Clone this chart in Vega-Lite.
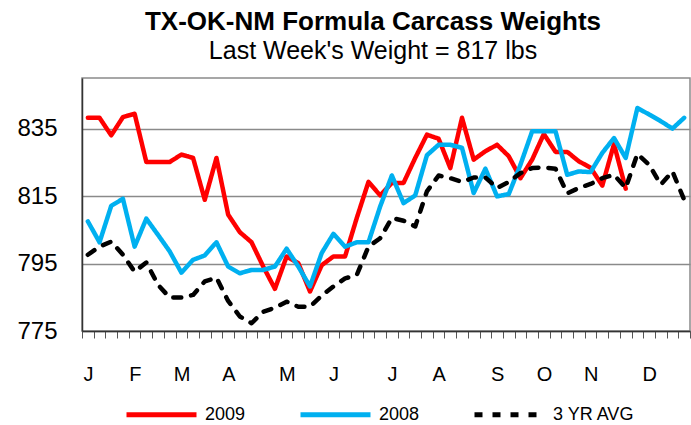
{
  "$schema": "https://vega.github.io/schema/vega-lite/v6.json",
  "autosize": "none",
  "width": 608,
  "height": 253,
  "padding": {"left": 82, "top": 78, "right": 1, "bottom": 94},
  "background": "white",
  "title": {
    "text": "TX-OK-NM Formula Carcass Weights",
    "subtitle": "Last Week's Weight = 817 lbs",
    "anchor": "middle",
    "dx": -13,
    "offset": 14,
    "font": "Liberation Sans",
    "fontSize": 26,
    "fontWeight": "bold",
    "color": "black",
    "subtitleFont": "Liberation Sans",
    "subtitleFontSize": 25,
    "subtitleColor": "black",
    "subtitlePadding": 4
  },
  "config": {
    "view": {"stroke": "#8a8a8a", "strokeWidth": 1.5},
    "font": "Liberation Sans"
  },
  "data": {
    "values": [
      {"week": 1, "series": "2009", "value": 838.2},
      {"week": 2, "series": "2009", "value": 838.2},
      {"week": 3, "series": "2009", "value": 833.0},
      {"week": 4, "series": "2009", "value": 838.4},
      {"week": 5, "series": "2009", "value": 839.4},
      {"week": 6, "series": "2009", "value": 825.1},
      {"week": 7, "series": "2009", "value": 825.1},
      {"week": 8, "series": "2009", "value": 825.1},
      {"week": 9, "series": "2009", "value": 827.3},
      {"week": 10, "series": "2009", "value": 826.3},
      {"week": 11, "series": "2009", "value": 813.9},
      {"week": 12, "series": "2009", "value": 826.3},
      {"week": 13, "series": "2009", "value": 809.5},
      {"week": 14, "series": "2009", "value": 804.3},
      {"week": 15, "series": "2009", "value": 801.3},
      {"week": 16, "series": "2009", "value": 794.1},
      {"week": 17, "series": "2009", "value": 787.5},
      {"week": 18, "series": "2009", "value": 797.1},
      {"week": 19, "series": "2009", "value": 795.1},
      {"week": 20, "series": "2009", "value": 786.7},
      {"week": 21, "series": "2009", "value": 794.5},
      {"week": 22, "series": "2009", "value": 797.1},
      {"week": 23, "series": "2009", "value": 797.1},
      {"week": 24, "series": "2009", "value": 808.5},
      {"week": 25, "series": "2009", "value": 819.2},
      {"week": 26, "series": "2009", "value": 815.2},
      {"week": 27, "series": "2009", "value": 818.9},
      {"week": 28, "series": "2009", "value": 818.9},
      {"week": 29, "series": "2009", "value": 826.3},
      {"week": 30, "series": "2009", "value": 833.2},
      {"week": 31, "series": "2009", "value": 832.0},
      {"week": 32, "series": "2009", "value": 823.3},
      {"week": 33, "series": "2009", "value": 838.2},
      {"week": 34, "series": "2009", "value": 825.8},
      {"week": 35, "series": "2009", "value": 828.3},
      {"week": 36, "series": "2009", "value": 830.2},
      {"week": 37, "series": "2009", "value": 826.8},
      {"week": 38, "series": "2009", "value": 820.3},
      {"week": 39, "series": "2009", "value": 825.8},
      {"week": 40, "series": "2009", "value": 833.4},
      {"week": 41, "series": "2009", "value": 828.1},
      {"week": 42, "series": "2009", "value": 828.1},
      {"week": 43, "series": "2009", "value": 825.3},
      {"week": 44, "series": "2009", "value": 823.4},
      {"week": 45, "series": "2009", "value": 818.1},
      {"week": 46, "series": "2009", "value": 830.4},
      {"week": 47, "series": "2009", "value": 817.2},
      {"week": 1, "series": "2008", "value": 807.5},
      {"week": 2, "series": "2008", "value": 801.3},
      {"week": 3, "series": "2008", "value": 812.1},
      {"week": 4, "series": "2008", "value": 814.2},
      {"week": 5, "series": "2008", "value": 800.0},
      {"week": 6, "series": "2008", "value": 808.3},
      {"week": 7, "series": "2008", "value": 803.5},
      {"week": 8, "series": "2008", "value": 798.6},
      {"week": 9, "series": "2008", "value": 792.3},
      {"week": 10, "series": "2008", "value": 796.1},
      {"week": 11, "series": "2008", "value": 797.4},
      {"week": 12, "series": "2008", "value": 801.3},
      {"week": 13, "series": "2008", "value": 794.1},
      {"week": 14, "series": "2008", "value": 792.1},
      {"week": 15, "series": "2008", "value": 793.1},
      {"week": 16, "series": "2008", "value": 793.1},
      {"week": 17, "series": "2008", "value": 794.1},
      {"week": 18, "series": "2008", "value": 799.4},
      {"week": 19, "series": "2008", "value": 794.1},
      {"week": 20, "series": "2008", "value": 788.2},
      {"week": 21, "series": "2008", "value": 798.1},
      {"week": 22, "series": "2008", "value": 803.8},
      {"week": 23, "series": "2008", "value": 800.0},
      {"week": 24, "series": "2008", "value": 801.3},
      {"week": 25, "series": "2008", "value": 801.3},
      {"week": 26, "series": "2008", "value": 811.9},
      {"week": 27, "series": "2008", "value": 821.1},
      {"week": 28, "series": "2008", "value": 812.9},
      {"week": 29, "series": "2008", "value": 815.2},
      {"week": 30, "series": "2008", "value": 827.1},
      {"week": 31, "series": "2008", "value": 830.2},
      {"week": 32, "series": "2008", "value": 830.2},
      {"week": 33, "series": "2008", "value": 829.3},
      {"week": 34, "series": "2008", "value": 815.9},
      {"week": 35, "series": "2008", "value": 823.1},
      {"week": 36, "series": "2008", "value": 814.9},
      {"week": 37, "series": "2008", "value": 815.6},
      {"week": 38, "series": "2008", "value": 824.3},
      {"week": 39, "series": "2008", "value": 834.2},
      {"week": 40, "series": "2008", "value": 834.2},
      {"week": 41, "series": "2008", "value": 834.2},
      {"week": 42, "series": "2008", "value": 821.3},
      {"week": 43, "series": "2008", "value": 822.3},
      {"week": 44, "series": "2008", "value": 822.1},
      {"week": 45, "series": "2008", "value": 827.8},
      {"week": 46, "series": "2008", "value": 832.2},
      {"week": 47, "series": "2008", "value": 826.3},
      {"week": 48, "series": "2008", "value": 841.1},
      {"week": 49, "series": "2008", "value": 839.2},
      {"week": 50, "series": "2008", "value": 837.2},
      {"week": 51, "series": "2008", "value": 835.0},
      {"week": 52, "series": "2008", "value": 838.2},
      {"week": 1, "series": "3 YR AVG", "value": 797.6},
      {"week": 2, "series": "3 YR AVG", "value": 800.0},
      {"week": 3, "series": "3 YR AVG", "value": 801.5},
      {"week": 4, "series": "3 YR AVG", "value": 797.6},
      {"week": 5, "series": "3 YR AVG", "value": 792.6},
      {"week": 6, "series": "3 YR AVG", "value": 795.3},
      {"week": 7, "series": "3 YR AVG", "value": 788.7},
      {"week": 8, "series": "3 YR AVG", "value": 784.9},
      {"week": 9, "series": "3 YR AVG", "value": 784.9},
      {"week": 10, "series": "3 YR AVG", "value": 785.7},
      {"week": 11, "series": "3 YR AVG", "value": 789.7},
      {"week": 12, "series": "3 YR AVG", "value": 790.8},
      {"week": 13, "series": "3 YR AVG", "value": 783.9},
      {"week": 14, "series": "3 YR AVG", "value": 779.3},
      {"week": 15, "series": "3 YR AVG", "value": 777.3},
      {"week": 16, "series": "3 YR AVG", "value": 780.7},
      {"week": 17, "series": "3 YR AVG", "value": 781.9},
      {"week": 18, "series": "3 YR AVG", "value": 783.7},
      {"week": 19, "series": "3 YR AVG", "value": 782.2},
      {"week": 20, "series": "3 YR AVG", "value": 782.2},
      {"week": 21, "series": "3 YR AVG", "value": 785.5},
      {"week": 22, "series": "3 YR AVG", "value": 788.2},
      {"week": 23, "series": "3 YR AVG", "value": 790.6},
      {"week": 24, "series": "3 YR AVG", "value": 791.6},
      {"week": 25, "series": "3 YR AVG", "value": 800.0},
      {"week": 26, "series": "3 YR AVG", "value": 802.5},
      {"week": 27, "series": "3 YR AVG", "value": 808.5},
      {"week": 28, "series": "3 YR AVG", "value": 807.7},
      {"week": 29, "series": "3 YR AVG", "value": 806.0},
      {"week": 30, "series": "3 YR AVG", "value": 816.4},
      {"week": 31, "series": "3 YR AVG", "value": 821.1},
      {"week": 32, "series": "3 YR AVG", "value": 820.3},
      {"week": 33, "series": "3 YR AVG", "value": 819.2},
      {"week": 34, "series": "3 YR AVG", "value": 820.5},
      {"week": 35, "series": "3 YR AVG", "value": 820.5},
      {"week": 36, "series": "3 YR AVG", "value": 817.4},
      {"week": 37, "series": "3 YR AVG", "value": 819.2},
      {"week": 38, "series": "3 YR AVG", "value": 821.8},
      {"week": 39, "series": "3 YR AVG", "value": 823.3},
      {"week": 40, "series": "3 YR AVG", "value": 823.5},
      {"week": 41, "series": "3 YR AVG", "value": 823.1},
      {"week": 42, "series": "3 YR AVG", "value": 815.8},
      {"week": 43, "series": "3 YR AVG", "value": 817.4},
      {"week": 44, "series": "3 YR AVG", "value": 818.6},
      {"week": 45, "series": "3 YR AVG", "value": 820.3},
      {"week": 46, "series": "3 YR AVG", "value": 821.3},
      {"week": 47, "series": "3 YR AVG", "value": 817.4},
      {"week": 48, "series": "3 YR AVG", "value": 827.5},
      {"week": 49, "series": "3 YR AVG", "value": 824.3},
      {"week": 50, "series": "3 YR AVG", "value": 818.4},
      {"week": 51, "series": "3 YR AVG", "value": 822.3},
      {"week": 52, "series": "3 YR AVG", "value": 813.9}
    ]
  },
  "mark": {"type": "line", "strokeWidth": 4.5, "strokeJoin": "round", "strokeCap": "round"},
  "encoding": {
    "x": {
      "field": "week",
      "type": "quantitative",
      "scale": {"domain": [0.5, 52.5], "nice": false, "zero": false},
      "axis": {
        "title": null,
        "grid": false,
        "values": [0.5,1.5,2.5,3.5,4.5,5.5,6.5,7.5,8.5,9.5,10.5,11.5,12.5,13.5,14.5,15.5,16.5,17.5,18.5,19.5,20.5,21.5,22.5,23.5,24.5,25.5,26.5,27.5,28.5,29.5,30.5,31.5,32.5,33.5,34.5,35.5,36.5,37.5,38.5,39.5,40.5,41.5,42.5,43.5,44.5,45.5,46.5,47.5,48.5,49.5,50.5,51.5,52.5],
        "labelExpr": "datum.value == 0.5 ? 'J' : datum.value == 4.5 ? 'F' : datum.value == 8.5 ? 'M' : datum.value == 12.5 ? 'A' : datum.value == 17.5 ? 'M' : datum.value == 21.5 ? 'J' : datum.value == 26.5 ? 'J' : datum.value == 30.5 ? 'A' : datum.value == 35.5 ? 'S' : datum.value == 39.5 ? 'O' : datum.value == 43.5 ? 'N' : datum.value == 48.5 ? 'D' : ''",
        "labelOverlap": false,
        "labelFlush": false,
        "labelOffset": 6,
        "labelFont": "Liberation Sans",
        "labelFontSize": 20,
        "labelColor": "black",
        "labelPadding": 26,
        "tickSize": 7,
        "tickColor": "#555555",
        "tickWidth": 1,
        "domainColor": "#333333",
        "domainWidth": 1.5
      }
    },
    "y": {
      "field": "value",
      "type": "quantitative",
      "scale": {"domain": [775, 850], "nice": false, "zero": false},
      "axis": {
        "title": null,
        "values": [775, 795, 815, 835],
        "grid": true,
        "gridColor": "#8a8a8a",
        "gridWidth": 1.5,
        "ticks": false,
        "labelFont": "Liberation Sans",
        "labelFontSize": 24,
        "labelColor": "black",
        "labelPadding": 25,
        "domainColor": "#333333",
        "domainWidth": 1.5
      }
    },
    "color": {
      "field": "series",
      "type": "nominal",
      "sort": ["2009", "2008", "3 YR AVG"],
      "scale": {"domain": ["2009", "2008", "3 YR AVG"], "range": ["#FF0000", "#00B0F0", "#000000"]},
      "legend": {
        "title": null,
        "orient": "none",
        "legendX": 42,
        "legendY": 299,
        "direction": "horizontal",
        "symbolType": "stroke",
        "symbolSize": 4900,
        "symbolStrokeWidth": 5,
        "labelFont": "Liberation Sans",
        "labelFontSize": 18,
        "labelColor": "black",
        "labelOffset": 6,
        "columnPadding": 44
      }
    },
    "strokeDash": {
      "field": "series",
      "type": "nominal",
      "sort": ["2009", "2008", "3 YR AVG"],
      "scale": {"domain": ["2009", "2008", "3 YR AVG"], "range": [[1, 0], [1, 0], [8, 10]]},
      "legend": {
        "title": null,
        "orient": "none",
        "legendX": 42,
        "legendY": 299,
        "direction": "horizontal",
        "symbolType": "stroke",
        "symbolSize": 4900,
        "symbolStrokeWidth": 5,
        "labelFont": "Liberation Sans",
        "labelFontSize": 18,
        "labelColor": "black",
        "labelOffset": 6,
        "columnPadding": 44
      }
    }
  }
}
